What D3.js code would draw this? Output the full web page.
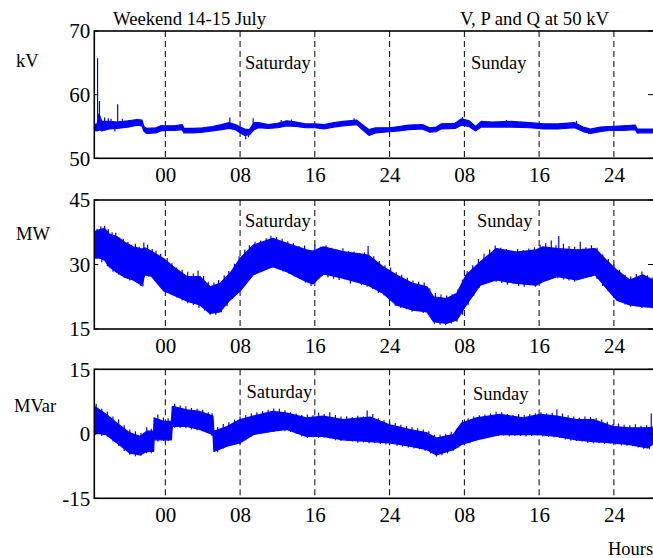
<!DOCTYPE html>
<html>
<head>
<meta charset="utf-8">
<script src="https://cdn.jsdelivr.net/npm/d3@7"></script>
<style>
  html, body { margin: 0; padding: 0; background: #fff; }
  svg { display: block; }
  text { font-family: "Liberation Serif", "Times New Roman", serif; fill: #000; }
</style>
</head>
<body>
<svg id="chart" width="653" height="558"></svg>
<script>
// ---------------- data (hours relative to Saturday 00:00) ----------------
const dayTicks = [0, 8, 16, 24, 32, 40, 48];
const dayTickLabels = ["00", "08", "16", "24", "08", "16", "24"];
const dayLabels = ["Saturday", "Sunday"];

// Panel 1: voltage kV (band low / high)
const vHours = [-7.6,-7.3,-7.1,-6.8,-6.0,-5.2,-4.0,-3.0,-2.5,-2.3,-2.0,-1.0,-0.5,0,1.0,1.8,2.0,3.0,4.0,5.0,6.0,6.8,7.5,8.0,8.5,9.0,9.5,10.0,11.0,12.0,13.0,14.0,15.0,16.0,17.0,18.0,19.0,20.5,21.0,21.8,22.5,24.0,25.0,26.0,27.5,28.3,29.0,29.5,31.0,31.7,32.5,33.2,33.8,35.0,37.0,39.0,40.5,42.0,43.8,44.7,45.5,46.5,47.5,49.0,50.3,50.5,52.4];
const vLow  = [54.4,54.3,54.5,54.3,54.6,54.7,54.9,55.2,55.1,54.3,53.9,54.0,54.3,54.4,54.4,54.5,54.0,54.0,54.1,54.3,54.5,54.7,54.5,54.0,53.6,53.7,54.5,54.8,54.7,54.8,55.1,55.0,54.8,54.8,54.6,54.9,55.1,55.3,54.6,53.6,54.0,54.2,54.3,54.5,54.6,54.1,54.2,54.6,54.7,55.2,55.0,54.3,54.9,54.9,54.9,54.8,54.6,54.6,54.8,54.2,53.9,54.2,54.4,54.4,54.5,54.0,54.0];
const vHigh = [55.3,55.4,57.0,55.8,55.8,55.7,55.9,56.1,56.0,55.0,54.7,54.8,55.1,55.1,55.1,55.3,54.7,54.7,54.8,55.0,55.3,55.6,55.3,54.9,54.6,54.5,55.6,55.6,55.3,55.5,55.9,55.7,55.4,55.4,55.3,55.6,55.8,56.0,55.4,54.5,54.8,54.8,55.0,55.2,55.3,54.8,54.9,55.4,55.5,56.2,55.9,55.0,55.8,55.7,55.8,55.6,55.4,55.4,55.6,54.9,54.6,54.9,55.0,55.1,55.2,54.6,54.6];
// spikes: [hour, extreme value]
const vSpikes = [[-7.25,65.7],[-7.05,59.0],[-6.5,56.4],[-6.1,56.3],[-5.8,56.2],[-5.1,58.5],[-5.4,54.2],[-4.6,56.2],[6.9,56.4],[8.6,53.0],[8.9,53.3],[9.4,56.3],[12.4,56.0],[13.5,56.1],[20.2,56.3],[31.8,56.5],[36.5,56.0],[44.0,55.9],[45.3,53.8],[50.6,53.9]];

// Panel 2: active power MW (band low / high)
const pHours = [-7.6,-7.0,-6.5,-6.0,-5.2,-4.3,-3.45,-2.5,-2.2,-1.5,-0.2,0.85,2.3,3.7,4.8,5.85,6.9,8.0,9.4,11.5,13.0,15.1,15.8,16.9,19.0,21.7,23.3,24.7,26.5,28.0,28.7,30.1,31.2,32.2,33.7,35.4,37.6,39.7,40.4,42.0,44.0,46.0,47.2,48.3,49.7,51.1,52.4];
const pLow  = [31.5,31.5,31.0,29.5,28.2,27.0,26.4,25.2,27.6,27.3,23.9,22.9,21.5,20.6,18.6,19.0,21.7,23.8,27.6,29.5,28.3,26.0,25.5,27.8,26.8,25.2,23.3,20.6,19.4,19.0,16.7,16.3,17.1,20.6,25.2,26.4,25.6,25.2,26.0,27.2,26.4,27.6,24.5,21.7,20.6,20.2,20.0];
const pHigh = [37.6,38.1,38.4,37.1,36.5,35.1,34.1,33.6,33.9,33.1,31.4,29.5,27.2,27.2,24.8,25.6,27.9,31.4,34.5,36.1,34.9,33.4,33.1,34.1,33.0,32.2,29.5,27.6,25.6,24.8,22.5,22.1,23.3,27.6,30.6,33.7,32.9,33.4,34.1,33.7,33.4,33.7,31.0,28.7,26.4,27.6,26.1];
const pSpikes = [
  [-7.3,38.3],[-6.9,38.9],[-6.5,39.0],[-6.1,38.2],[-5.7,37.5],[-5.3,37.4],[-4.9,36.2],[-4.5,36.0],[-4.0,35.3],[-3.6,34.6],[-3.2,34.8],[-2.8,34.1],[-2.3,35.1],[-1.9,34.6],[-1.4,33.6],[-1.0,33.2],[-0.5,32.5],[0.2,31.5],[0.7,30.3],[1.2,29.3],[1.8,28.8],[2.4,28.3],[3.0,27.9],[3.5,28.6],[4.1,27.3],[4.6,26.0],[5.2,25.8],[5.7,26.4],[6.3,27.5],[6.8,28.5],[7.4,30.2],[7.9,31.9],[8.5,33.5],[9.0,34.5],[9.6,35.3],[10.2,35.6],[10.8,36.1],[11.3,36.7],[11.9,36.4],[12.5,36.0],[13.1,35.4],[13.7,35.0],[14.3,34.3],[14.9,34.4],[15.4,33.2],[16.0,34.6],[16.6,34.1],[17.2,34.5],[17.8,33.9],[18.4,33.5],[19.0,33.8],[19.6,33.1],[20.2,33.0],[20.8,32.7],[21.3,32.8],[21.7,34.3],[22.3,31.9],[22.9,30.8],[23.5,29.8],[24.1,29.3],[24.7,28.2],[25.3,27.6],[25.9,26.9],[26.5,26.3],[27.1,26.0],[27.7,25.8],[28.3,24.5],[28.9,23.4],[29.5,23.0],[30.1,22.8],[30.7,23.1],[31.3,24.2],[31.8,26.5],[32.3,28.5],[32.9,29.8],[33.5,31.3],[34.1,32.5],[34.7,33.5],[35.3,34.4],[35.9,33.9],[36.5,33.6],[37.1,33.2],[37.7,33.6],[38.3,33.4],[38.9,33.7],[39.5,34.0],[40.1,34.6],[40.7,35.0],[41.3,35.6],[41.8,34.5],[42.1,36.6],[42.6,34.8],[43.2,34.3],[43.8,34.1],[44.4,35.3],[45.0,34.0],[45.6,34.5],[46.2,33.9],[46.8,32.3],[47.4,31.3],[48.0,30.0],[48.6,28.8],[49.2,27.6],[49.8,27.2],[50.4,27.8],[51.0,28.4],[51.6,27.5],[52.1,27.0],
  [-6.8,30.5],[-6.2,29.6],[-5.6,28.3],[-5.0,27.7],[-4.4,27.0],[-3.8,26.3],[-3.2,26.0],[-2.6,25.0],[-2.4,24.9],[-1.8,27.2],[-1.2,26.8],[-0.6,25.8],[0.0,24.6],[0.6,23.2],[1.2,22.3],[1.8,21.6],[2.4,21.0],[3.0,20.6],[3.6,19.9],[4.2,19.3],[4.8,18.3],[5.4,18.3],[6.0,18.9],[6.6,20.3],[7.2,22.0],[7.8,23.8],[8.4,25.2],[9.0,26.5],[9.6,27.6],[10.2,28.3],[10.8,28.9],[11.4,29.2],[12.0,29.0],[12.6,28.4],[13.2,27.9],[13.8,27.2],[14.4,26.6],[15.0,25.8],[15.6,25.0],[16.2,26.6],[16.8,27.3],[17.4,27.0],[18.0,26.7],[18.6,26.4],[19.2,26.5],[19.8,25.5],[20.4,25.9],[21.0,25.2],[21.6,24.8],[22.2,24.3],[22.8,23.4],[23.4,22.8],[24.0,21.8],[24.6,20.4],[25.2,19.9],[25.8,19.6],[26.4,19.0],[27.0,19.3],[27.6,18.7],[28.2,18.3],[28.8,16.2],[29.4,16.0],[30.0,15.9],[30.6,16.3],[31.2,16.7],[31.8,18.3],[32.4,20.5],[33.0,22.7],[33.6,24.6],[34.2,25.5],[34.8,26.0],[35.4,26.0],[36.0,25.7],[36.6,25.3],[37.2,25.5],[37.8,25.0],[38.4,24.8],[39.0,25.2],[39.6,24.8],[40.2,25.7],[40.8,26.4],[41.4,26.7],[42.0,26.8],[42.6,26.5],[43.2,26.3],[43.8,26.0],[44.4,26.6],[45.0,27.0],[45.6,27.2],[46.2,26.6],[46.8,25.0],[47.4,23.8],[48.0,22.2],[48.6,21.3],[49.2,20.7],[49.8,20.2],[50.4,20.3],[51.0,19.9],[51.6,20.0],[52.2,19.7]
];

// Panel 3: reactive power MVar (band low / high)
const qHours = [-7.6,-6.3,-5.2,-3.8,-2.7,-2.0,-1.25,-1.2,-0.2,0.65,0.75,2.3,3.7,5.1,5.2,6.6,8.0,9.4,11.5,13.0,15.1,16.9,19.0,21.9,24.0,26.2,28.0,29.0,30.8,31.7,33.3,35.8,38.3,40.1,41.9,44.0,45.8,47.9,49.7,51.6,52.4];
const qLow  = [0.2,-0.2,-2.1,-4.5,-4.9,-4.1,-4.1,-1.4,-1.4,-1.4,1.7,1.7,1.0,-0.2,-4.1,-2.9,-2.1,-0.2,0.6,1.0,-0.6,-0.6,-1.4,-1.8,-2.1,-2.9,-3.7,-4.9,-3.7,-2.5,-1.4,-0.2,-0.2,-0.2,-0.6,-1.4,-1.8,-2.1,-2.5,-3.3,-2.0];
const qHigh = [6.4,4.5,2.5,0.2,-0.6,0.6,0.6,3.7,2.9,2.9,6.4,5.6,5.2,4.1,0.6,1.7,3.3,4.1,5.2,4.8,3.7,4.1,3.3,3.9,2.1,1.0,0.2,-1.0,-0.2,2.5,3.7,4.5,3.7,4.5,4.1,3.3,3.3,1.7,1.4,1.4,1.6];
const qSpikes = [
  [-7.4,7.0],[-6.8,5.8],[-6.2,5.2],[-5.6,4.0],[-5.0,3.3],[-4.4,2.0],[-3.8,1.0],[-3.2,0.6],[-2.6,0.2],[-2.0,1.5],[-1.5,1.2],[-0.8,4.5],[-0.2,3.8],[0.3,3.6],[1.0,7.0],[1.6,6.6],[2.2,6.4],[2.8,6.0],[3.4,5.8],[4.0,5.6],[4.6,5.0],[5.0,4.8],[5.6,1.6],[6.2,2.3],[6.8,2.7],[7.4,3.3],[8.0,4.0],[8.6,4.4],[9.2,4.8],[9.8,5.0],[10.4,5.3],[11.0,5.6],[11.6,5.9],[12.2,5.8],[12.8,5.5],[13.4,5.0],[14.0,4.7],[14.6,4.4],[15.2,4.5],[15.8,4.3],[16.4,4.9],[17.0,4.6],[17.6,5.0],[18.2,4.4],[18.8,4.0],[19.4,4.1],[20.0,3.9],[20.6,4.2],[21.2,4.0],[21.6,5.4],[22.2,4.6],[22.8,3.6],[23.4,3.2],[24.0,2.8],[24.6,2.5],[25.2,2.1],[25.8,1.8],[26.4,1.5],[27.0,1.3],[27.6,1.0],[28.2,0.6],[28.8,-0.2],[29.4,-0.2],[30.0,0.0],[30.6,0.5],[31.2,1.2],[31.8,3.2],[32.4,3.6],[33.0,4.0],[33.6,4.3],[34.2,4.5],[34.8,4.7],[35.4,5.1],[36.0,5.0],[36.6,4.6],[37.2,4.4],[37.8,4.6],[38.4,4.4],[39.0,4.6],[39.6,4.8],[40.2,5.0],[40.8,4.8],[41.4,4.9],[41.9,5.7],[42.5,4.7],[43.1,4.3],[43.7,4.0],[44.3,3.8],[44.9,4.0],[45.5,3.9],[46.1,3.7],[46.7,3.3],[47.3,2.8],[47.9,2.3],[48.5,2.4],[49.1,2.1],[49.7,2.0],[50.3,2.2],[50.9,1.9],[51.5,2.0],[52.0,4.7],
  [-7.5,-0.3],[-6.8,-0.5],[-6.2,-0.6],[-5.6,-1.8],[-5.0,-2.8],[-4.4,-4.0],[-3.8,-4.9],[-3.2,-5.2],[-2.6,-5.1],[-2.0,-4.5],[-1.5,-4.5],[-0.8,-1.8],[-0.2,-1.7],[0.3,-1.7],[1.0,1.4],[1.6,1.4],[2.2,1.3],[2.8,1.0],[3.4,0.8],[4.0,0.6],[4.6,0.2],[5.0,-0.5],[5.6,-4.3],[6.2,-3.4],[6.8,-2.8],[7.4,-2.5],[8.0,-2.4],[8.6,-1.5],[9.2,-0.6],[9.8,0.0],[10.4,0.3],[11.0,0.3],[11.6,0.4],[12.2,0.7],[12.8,0.6],[13.4,0.4],[14.0,0.0],[14.6,-0.6],[15.2,-1.0],[15.8,-0.8],[16.4,-0.9],[17.0,-0.9],[17.6,-1.1],[18.2,-1.5],[18.8,-1.7],[19.4,-1.6],[20.0,-1.8],[20.6,-2.1],[21.2,-2.0],[21.8,-2.2],[22.4,-2.1],[23.0,-2.4],[23.6,-2.5],[24.2,-2.4],[24.8,-2.8],[25.4,-3.0],[26.0,-3.2],[26.6,-3.4],[27.2,-3.6],[27.8,-4.0],[28.4,-4.6],[29.0,-5.3],[29.6,-5.0],[30.2,-4.6],[30.8,-4.0],[31.4,-3.2],[32.0,-2.6],[32.6,-2.2],[33.2,-1.7],[33.8,-1.2],[34.4,-0.9],[35.0,-0.6],[35.6,-0.5],[36.2,-0.4],[36.8,-0.6],[37.4,-0.5],[38.0,-0.5],[38.6,-0.6],[39.2,-0.5],[39.8,-0.4],[40.4,-0.6],[41.0,-0.7],[41.6,-0.8],[42.2,-1.0],[42.8,-1.3],[43.4,-1.6],[44.0,-1.7],[44.6,-1.8],[45.2,-2.1],[45.8,-2.2],[46.4,-2.2],[47.0,-2.4],[47.6,-2.3],[48.2,-2.5],[48.8,-2.7],[49.4,-2.8],[50.0,-2.9],[50.6,-3.2],[51.2,-3.5],[51.8,-3.6]
];

const panels = [
  { unit: "kV",   hours: vHours, low: vLow, high: vHigh, spikes: vSpikes, yDomain: [50, 70],  yTicks: [50, 60, 70] },
  { unit: "MW",   hours: pHours, low: pLow, high: pHigh, spikes: pSpikes, yDomain: [15, 45],  yTicks: [15, 30, 45] },
  { unit: "MVar", hours: qHours, low: qLow, high: qHigh, spikes: qSpikes, yDomain: [-15, 15], yTicks: [-15, 0, 15] }
];

// ---------------- layout ----------------
const svg = d3.select("#chart");
const left = 94.3, right = 655;
const x = d3.scaleLinear().domain([-7.6, 52.4]).range([left, right]);
const layout = [
  { top: 31,    bottom: 158.3, unitX: 16, unitY: 66.7,  dayY: [68.5, 68.5],  dayX: [245, 471] },
  { top: 200,   bottom: 329,   unitX: 16, unitY: 240,   dayY: [226.7, 226.7], dayX: [245, 477] },
  { top: 369.3, bottom: 498.3, unitX: 14, unitY: 411.7, dayY: [397.7, 399.5], dayX: [246.5, 473] }
];
const blue = "#0000ff";

panels.forEach((p, i) => {
  const L = layout[i];
  const y = d3.scaleLinear().domain(p.yDomain).range([L.bottom, L.top]);
  const g = svg.append("g");

  const clipId = "clip" + i;
  svg.append("clipPath").attr("id", clipId)
    .append("rect").attr("x", left).attr("y", L.top)
    .attr("width", right - left).attr("height", L.bottom - L.top);

  // dashed day grid
  g.selectAll("line.grid").data(dayTicks).join("line")
    .attr("class", "grid")
    .attr("x1", d => x(d)).attr("x2", d => x(d))
    .attr("y1", L.top).attr("y2", L.bottom)
    .attr("stroke", "#000").attr("stroke-width", 1)
    .attr("stroke-dasharray", "6,4");

  // day labels
  dayLabels.forEach((t, k) => {
    g.append("text").attr("x", L.dayX[k]).attr("y", L.dayY[k])
      .attr("font-size", 18.5).text(t);
  });

  // data band + spikes from band middle to the extreme
  const rows = p.hours.map((h, k) => ({ h, lo: p.low[k], hi: p.high[k] }));
  const mid = d3.scaleLinear().domain(p.hours).range(rows.map(r => (r.lo + r.hi) / 2));
  const area = d3.area().x(d => x(d.h)).y0(d => y(d.lo)).y1(d => y(d.hi));
  const dg = g.append("g").attr("clip-path", `url(#${clipId})`);
  dg.append("path").datum(rows).attr("d", area)
    .attr("fill", blue).attr("stroke", blue).attr("stroke-width", 1.2)
    .attr("stroke-linejoin", "round");
  dg.selectAll("line.spike").data(p.spikes).join("line")
    .attr("class", "spike")
    .attr("x1", d => x(d[0])).attr("x2", d => x(d[0]))
    .attr("y1", d => y(mid(d[0]))).attr("y2", d => y(d[1]))
    .attr("stroke", blue).attr("stroke-width", 1.2);

  // frame
  g.append("rect").attr("x", left).attr("y", L.top)
    .attr("width", right - left).attr("height", L.bottom - L.top)
    .attr("fill", "none").attr("stroke", "#000").attr("stroke-width", 1.6);

  // y ticks (inward, both sides)
  p.yTicks.forEach(v => {
    g.append("line").attr("x1", left).attr("x2", left + 4)
      .attr("y1", y(v)).attr("y2", y(v)).attr("stroke", "#000").attr("stroke-width", 1);
    g.append("line").attr("x1", 653 - 5).attr("x2", 653)
      .attr("y1", y(v)).attr("y2", y(v)).attr("stroke", "#000").attr("stroke-width", 1);
  });
  const yAxis = d3.axisLeft(y).tickValues(p.yTicks).tickFormat(d => String(d)).tickSize(0).tickPadding(4);
  const ya = g.append("g").attr("transform", `translate(${left},0)`).call(yAxis);
  ya.select(".domain").remove();
  ya.selectAll("text").attr("font-size", 21).attr("font-family", "Liberation Serif").attr("fill", "#000");

  // x axis tick labels
  const xAxis = d3.axisBottom(x).tickValues(dayTicks)
    .tickFormat((d, k) => dayTickLabels[k]).tickSize(0).tickPadding(9);
  const xa = g.append("g").attr("transform", `translate(0,${L.bottom})`).call(xAxis);
  xa.select(".domain").remove();
  xa.selectAll("text").attr("font-size", 21).attr("font-family", "Liberation Serif").attr("fill", "#000");

  // unit label
  g.append("text").attr("x", L.unitX).attr("y", L.unitY).attr("font-size", 18.5).text(p.unit);
});

// titles
svg.append("text").attr("x", 113).attr("y", 25).attr("font-size", 18.7).text("Weekend 14-15 July");
svg.append("text").attr("x", 609).attr("y", 25).attr("text-anchor", "end").attr("font-size", 18.7).text("V, P and Q at 50 kV");
svg.append("text").attr("x", 608).attr("y", 555).attr("font-size", 18.5).text("Hours");
</script>
</body>
</html>
